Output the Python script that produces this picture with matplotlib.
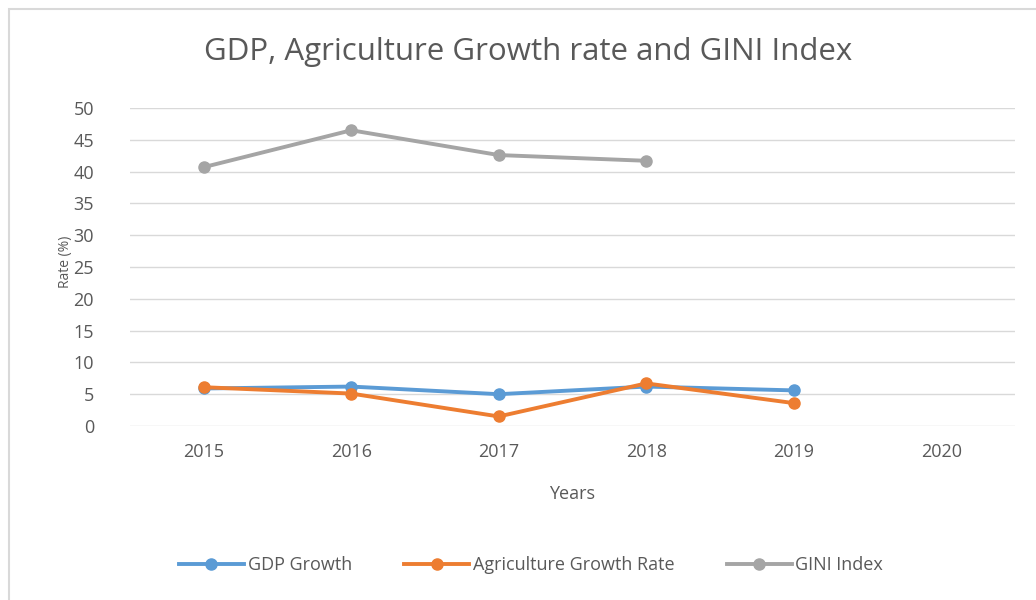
import matplotlib

matplotlib.use("Agg")
import matplotlib.pyplot as plt
from matplotlib.patches import Rectangle
import numpy as np

years = ["2015", "2016", "2017", "2018", "2019", "2020"]
gdp_growth = [5.9, 6.2, 5.0, 6.2, 5.6]
agri_growth = [6.1, 5.1, 1.5, 6.7, 3.6]
gini_index = [40.7, 46.5, 42.6, 41.7]

COLORS = {"gdp": "#5B9BD5", "agri": "#ED7D31", "gini": "#A5A5A5"}
TEXT = "#595959"

plt.rcParams["font.family"] = ["Open Sans", "DejaVu Sans"]

fig = plt.figure(figsize=(10.36, 6.0), dpi=100)
fig.patches.append(Rectangle((9 / 1036, -0.1), 1.2, 1 - 9 / 600 + 0.1, transform=fig.transFigure,
                             fill=False, edgecolor="#D9D9D9", linewidth=1.5))
ax = fig.add_axes([130 / 1036, 174 / 600, 885 / 1036, 318 / 600])

x = np.arange(len(years))
ax.plot(x[:len(gdp_growth)], gdp_growth, color=COLORS["gdp"], linewidth=2.8, marker="o", markersize=8,
        label="GDP Growth", zorder=3)
ax.plot(x[:len(agri_growth)], agri_growth, color=COLORS["agri"], linewidth=2.8, marker="o", markersize=8,
        label="Agriculture Growth Rate", zorder=4)
ax.plot(x[:len(gini_index)], gini_index, color=COLORS["gini"], linewidth=2.8, marker="o", markersize=8,
        label="GINI Index", zorder=3)

ax.set_xlim(-0.5, len(years) - 0.5)
ax.set_ylim(0, 50)
ax.set_yticks(range(0, 51, 5))
ax.set_xticks(x)
ax.set_xticklabels(years)
ax.grid(axis="y", color="#D9D9D9", linewidth=1.0)
ax.set_axisbelow(True)
for side in ("top", "right", "left", "bottom"):
    ax.spines[side].set_visible(False)
ax.tick_params(axis="both", length=0, labelsize=13, colors=TEXT)
ax.tick_params(axis="y", pad=26)
ax.tick_params(axis="x", pad=12)

fig.text(528 / 1036, 1 - 52 / 600, "GDP, Agriculture Growth rate and GINI Index", ha="center", va="center",
         fontsize=22.5, color=TEXT)
fig.text(572 / 1036, 1 - 494 / 600, "Years", ha="center", va="center", fontsize=13, color=TEXT)
fig.text(66 / 1036, 1 - 262 / 600, "Rate (%)", ha="center", va="center", rotation=90, fontsize=10, color=TEXT)

fig.legend(loc="center", bbox_to_anchor=(531 / 1036, 1 - 565 / 600), ncol=3, frameon=False, fontsize=13,
           labelcolor=TEXT, handlelength=3.6, handletextpad=0.2, columnspacing=2.9)

fig.savefig("out.png", dpi=100, facecolor="white")
